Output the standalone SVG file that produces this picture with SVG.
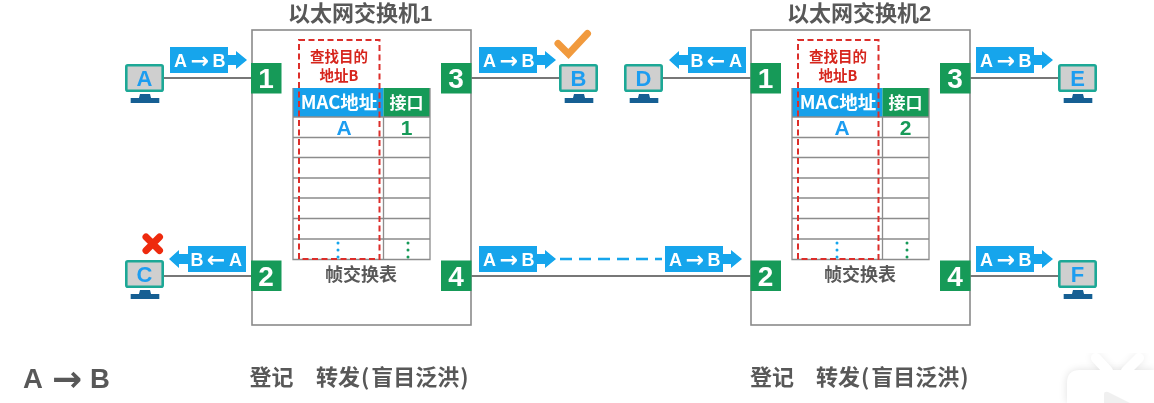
<svg xmlns="http://www.w3.org/2000/svg" width="1154" height="403" viewBox="0 0 1154 403">
<style>
.cjk{font-family:"Noto Sans CJK SC","Liberation Sans",sans-serif;font-weight:700}
.lat{font-family:"Liberation Sans","Noto Sans CJK SC",sans-serif;font-weight:700}
.arr{font-family:"DejaVu Sans",sans-serif;font-weight:700}
.sw{fill:#fff;stroke:#8a8a8a;stroke-width:1.6}
.wire{stroke:#777;stroke-width:1.8;fill:none}
.grid{stroke:#8c8c8c;stroke-width:1.3;fill:none}
.port{fill:#159a59}
.ptxt{fill:#fff;font-size:28px;text-anchor:middle}
.title{fill:#595959;font-size:22px;text-anchor:middle}
.gray{fill:#595959;font-size:18px;text-anchor:middle}
.bottom{fill:#595959;font-size:22px}
.blue{fill:#12a5ec}
.pk{fill:#fff;font-size:18px;text-anchor:middle}
.red{fill:#d6261f;font-size:14.5px;text-anchor:middle}
.mon{fill:#cfcfcf;stroke:#1fa896;stroke-width:2.6}
.stand{fill:#125f93}
.mtxt{fill:#1f9df0;font-size:22px;text-anchor:middle}
.dash{fill:none;stroke:#dc2f2c;stroke-width:2;stroke-dasharray:6 3.5}
.thdr{fill:#fff;font-size:18.5px;text-anchor:middle}
.thdr2{fill:#fff;font-size:17px;text-anchor:middle}
</style>
<defs>
<filter id="soft" x="-2%" y="-2%" width="104%" height="104%"><feGaussianBlur stdDeviation="0.55"/></filter>
<filter id="shadow" x="-30%" y="-30%" width="160%" height="160%"><feGaussianBlur stdDeviation="4"/></filter>
<g id="pc">
<rect class="mon" x="1.3" y="1.3" width="36.4" height="25.4" rx="1.5"/>
<path class="stand" d="M15 30h10l1 4h8.300v5h-28.600v-5h8.300z"/>
</g>
<g id="pr">
<rect class="blue" x="0" y="0" width="58" height="26"/>
<path class="blue" d="M58 8h8v-4l11 9-11 9v-4h-8z"/>
<text class="lat pk" x="10.500" y="20">A</text>
<text class="arr" x="30" y="21" font-size="22" fill="#fff" text-anchor="middle">→</text>
<text class="lat pk" x="49" y="20">B</text>
</g>
<g id="pl">
<rect class="blue" x="0" y="0" width="58" height="26"/>
<path class="blue" d="M0 8h-9v-4l-10 9 10 9v-4h9z"/>
<text class="lat pk" x="9" y="20">B</text>
<text class="arr" x="28" y="21" font-size="22" fill="#fff" text-anchor="middle">←</text>
<text class="lat pk" x="47.500" y="20">A</text>
</g>
<g id="table">
<rect x="0" y="0" width="90.500" height="29" fill="#12a0ea"/>
<rect x="90.500" y="0" width="46.500" height="29" fill="#159a59"/>
<path class="grid" d="M0 0V171.500H137V0M0 29H137M0 49.500H137M0 69.500H137M0 90H137M0 110H137M0 130.500H137M0 151H137M90.500 29V171.500"/>
<circle cx="45" cy="155" r="1.500" fill="#12a5ec"/><circle cx="45" cy="162" r="1.500" fill="#12a5ec"/><circle cx="45" cy="169" r="1.500" fill="#12a5ec"/>
<circle cx="115" cy="155" r="1.500" fill="#159a59"/><circle cx="115" cy="162" r="1.500" fill="#159a59"/><circle cx="115" cy="169" r="1.500" fill="#159a59"/>
<rect class="dash" x="6" y="-48" width="80.500" height="219"/>
</g>
</defs>
<rect width="1154" height="403" fill="#fff"/>
<g filter="url(#soft)">
<g id="connectors">
<path class="wire" d="M164 78H252M471 78H559M164 276H252M471 276H751M663 78H752M970 78H1058M970 276H1058"/>
<path d="M560 259H662" fill="none" stroke="#12a5ec" stroke-width="2.500" stroke-dasharray="12 7"/>
</g>
<g id="switch1">
<rect class="sw" x="252" y="30" width="219" height="295"/>
<text class="lat title" x="360" y="21">以太网交换机1</text>
<use href="#table" x="293" y="88"/>
<text class="cjk red" x="339" y="62">查找目的</text>
<text class="cjk red" x="339" y="81">地址B</text>
<text class="cjk thdr" x="339" y="109">MAC地址</text>
<text class="cjk thdr2" x="406.500" y="109">接口</text>
<text class="lat" x="344" y="135" font-size="21" fill="#1f9df0" text-anchor="middle">A</text>
<text class="lat" x="406.500" y="135" font-size="21" fill="#159a59" text-anchor="middle">1</text>
<text class="cjk gray" x="361" y="281">帧交换表</text>
<g id="s1p1"><rect class="port" x="251" y="63" width="30.500" height="30.500"/><text class="lat ptxt" x="266" y="88">1</text></g>
<g id="s1p2"><rect class="port" x="251" y="260.500" width="30.500" height="30.500"/><text class="lat ptxt" x="266" y="285.500">2</text></g>
<g id="s1p3"><rect class="port" x="441" y="63" width="30.500" height="30.500"/><text class="lat ptxt" x="456" y="88">3</text></g>
<g id="s1p4"><rect class="port" x="441" y="260.500" width="30.500" height="30.500"/><text class="lat ptxt" x="456" y="285.500">4</text></g>
</g>
<g id="switch2">
<rect class="sw" x="751" y="30" width="219" height="295"/>
<text class="lat title" x="859" y="21">以太网交换机2</text>
<use href="#table" x="792" y="88"/>
<text class="cjk red" x="838" y="62">查找目的</text>
<text class="cjk red" x="838" y="81">地址B</text>
<text class="cjk thdr" x="838" y="109">MAC地址</text>
<text class="cjk thdr2" x="905.500" y="109">接口</text>
<text class="lat" x="842" y="135" font-size="21" fill="#1f9df0" text-anchor="middle">A</text>
<text class="lat" x="905.500" y="135" font-size="21" fill="#159a59" text-anchor="middle">2</text>
<text class="cjk gray" x="860" y="281">帧交换表</text>
<g id="s2p1"><rect class="port" x="750.500" y="63" width="30.500" height="30.500"/><text class="lat ptxt" x="765.500" y="88">1</text></g>
<g id="s2p2"><rect class="port" x="750.500" y="260.500" width="30.500" height="30.500"/><text class="lat ptxt" x="765.500" y="285.500">2</text></g>
<g id="s2p3"><rect class="port" x="940" y="63" width="30.500" height="30.500"/><text class="lat ptxt" x="955" y="88">3</text></g>
<g id="s2p4"><rect class="port" x="940" y="260.500" width="30.500" height="30.500"/><text class="lat ptxt" x="955" y="285.500">4</text></g>
</g>
<g id="hostA"><use href="#pc" x="125" y="64"/><text class="lat mtxt" x="144.500" y="86">A</text></g>
<g id="hostB"><use href="#pc" x="559" y="64"/><text class="lat mtxt" x="578.500" y="86">B</text></g>
<g id="hostC"><use href="#pc" x="125" y="260"/><text class="lat mtxt" x="144.500" y="282">C</text></g>
<g id="hostD"><use href="#pc" x="624" y="64"/><text class="lat mtxt" x="643.500" y="86">D</text></g>
<g id="hostE"><use href="#pc" x="1058" y="64"/><text class="lat mtxt" x="1077.500" y="86">E</text></g>
<g id="hostF"><use href="#pc" x="1058" y="260"/><text class="lat mtxt" x="1077.500" y="282">F</text></g>
<g id="packets">
<use href="#pr" x="170" y="47"/>
<use href="#pr" x="479" y="47"/>
<use href="#pl" x="188" y="246"/>
<use href="#pr" x="479" y="246"/>
<use href="#pl" x="688" y="47"/>
<use href="#pr" x="976" y="47"/>
<use href="#pr" x="665" y="246"/>
<use href="#pr" x="976" y="246"/>
</g>
<path id="check" d="M558 43.500L568.500 54L587.500 33.500" fill="none" stroke="#f19a3e" stroke-width="7" stroke-linecap="round" stroke-linejoin="miter"/>
<path id="cross" d="M146 237L159.500 250.500M159.500 237L146 250.500" fill="none" stroke="#ee2a10" stroke-width="7" stroke-linecap="round"/>
<g id="legend">
<text y="388" font-size="27.500" fill="#595959"><tspan class="lat" x="23">A</tspan><tspan class="arr" x="52" y="391" font-size="36">→</tspan><tspan class="lat" x="90" y="388">B</tspan></text>
<text class="cjk bottom" x="249.500" y="385">登记</text>
<text class="cjk bottom" x="316" y="385">转发<tspan dx="1">(</tspan><tspan dx="2">盲目泛洪</tspan><tspan dx="1">)</tspan></text>
<text class="cjk bottom" x="750" y="385">登记</text>
<text class="cjk bottom" x="816" y="385">转发<tspan dx="1">(</tspan><tspan dx="2">盲目泛洪</tspan><tspan dx="1">)</tspan></text>
</g>
</g>
<g id="watermark">
<path d="M1067 403V383q0-13 13-13H1154V403Z" fill="#000" opacity=".12" filter="url(#shadow)"/>
<path d="M1096 358L1108 372M1139 358L1126 372" stroke="#000" opacity=".08" stroke-width="10" stroke-linecap="round" filter="url(#shadow)"/>
<path d="M1067 403V383q0-13 13-13H1154V403Z" fill="#fff"/>
<path d="M1096 358L1108 371M1139 358L1126 371" stroke="#fff" stroke-width="10" stroke-linecap="round"/>
<path d="M1104 394q0-3 4-2L1130 403H1104Z" fill="#f0f0f0"/>
</g>
</svg>
